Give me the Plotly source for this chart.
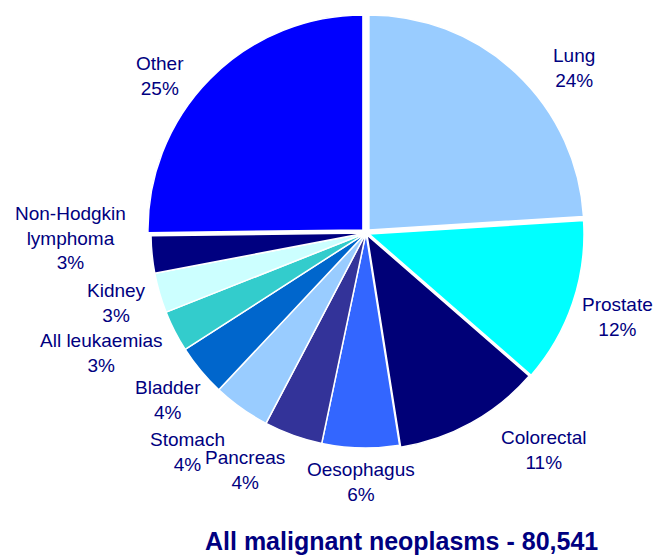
import plotly.graph_objects as go

# Data
sites = ["Lung", "Prostate", "Colorectal", "Oesophagus", "Pancreas", "Stomach",
         "Bladder", "All leukaemias", "Kidney", "Non-Hodgkin lymphoma", "Other"]
shares = [24.0, 12.4, 11.1, 5.8, 4.4, 4.3, 3.9, 3.1, 3.0, 2.8, 25.2]
label_text = ["Lung", "Prostate", "Colorectal", "Oesophagus", "Pancreas", "Stomach",
              "Bladder", "All leukaemias", "Kidney", "Non-Hodgkin<br>lymphoma", "Other"]
title_text = "All malignant neoplasms - 80,541"

# Styles
colors = ["#99CCFF", "#00FFFF", "#000077", "#3366FF", "#333399", "#99CCFF",
          "#0066CC", "#33CCCC", "#CCFFFF", "#000080", "#0000FF"]
pulls = [0.02, 0.015, 0.01, 0, 0, 0, 0, 0, 0, 0, 0.02]
# label anchor positions in pixels (x from left, y from top)
label_pos = [(574, 68), (617, 317), (544, 450), (361, 482), (245, 470), (187, 452),
             (168, 400), (101, 353), (116, 303), (70, 238), (160, 76)]

W, H = 654, 555
TXT = "#000080"

total = sum(shares)
fig = go.Figure(go.Pie(
    labels=sites, values=shares, sort=False, direction="clockwise", rotation=0,
    marker=dict(colors=colors, line=dict(color="white", width=1.5)),
    pull=pulls, textinfo="none", hoverinfo="label+percent",
    domain=dict(x=[0.2243, 0.8949], y=[0.1850, 0.9753]),
    showlegend=False,
))

anns = []
for txt, v, (px, py) in zip(label_text, shares, label_pos):
    pct = round(100 * v / total)
    anns.append(dict(
        x=px / W, y=1 - py / H, xref="paper", yref="paper",
        text=f"{txt}<br>{pct}%", showarrow=False, align="center",
        xanchor="center", yanchor="middle",
        font=dict(family="Liberation Sans, Arial, sans-serif", size=19, color=TXT),
    ))
anns.append(dict(
    x=401 / W, y=1 - 541 / H, xref="paper", yref="paper",
    text=f"<b>{title_text}</b>", showarrow=False,
    xanchor="center", yanchor="middle",
    font=dict(family="Liberation Sans, Arial, sans-serif", size=25, color=TXT),
))

fig.update_layout(
    width=W, height=H, margin=dict(l=0, r=0, t=0, b=0),
    paper_bgcolor="white", plot_bgcolor="white", annotations=anns,
)
fig.write_html("out.html", config={"displayModeBar": False},
               post_script="document.body.style.margin='0';document.body.style.overflow='hidden';")
